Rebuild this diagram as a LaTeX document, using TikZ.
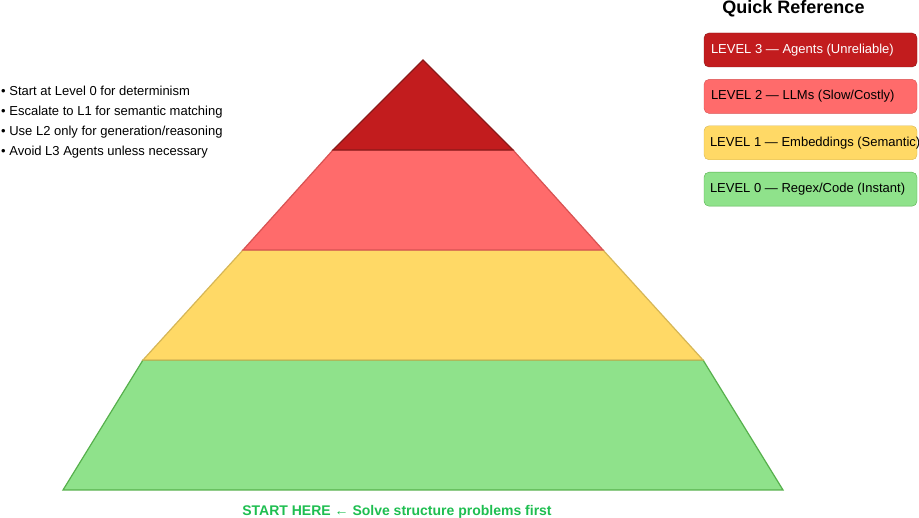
\documentclass[tikz,border=0pt]{standalone}
\usepackage{fontspec}
\setmainfont{Liberation Sans}
\usepackage{xcolor}
\usepackage{tikz}
\usetikzlibrary{positioning}
\definecolor{redfill}{HTML}{C21C1E}
\definecolor{redline}{HTML}{8B1A1A}
\definecolor{pinkfill}{HTML}{FF6B6B}
\definecolor{pinkline}{HTML}{D85252}
\definecolor{yellowfill}{HTML}{FFD966}
\definecolor{yellowline}{HTML}{D6B656}
\definecolor{greenfill}{HTML}{8FE28B}
\definecolor{greenline}{HTML}{56B04C}
\definecolor{starttext}{HTML}{1EBE50}
\tikzset{layer/.style={line width=1.2pt,line join=miter},
         refbox/.style={draw,rounded corners=5pt,minimum width=213pt,minimum height=34pt,inner sep=0pt,font=\fontsize{13}{15}\selectfont}}

\begin{document}
\begin{tikzpicture}[x=1pt,y=-1pt]
    \useasboundingbox (0,0) rectangle (919,518);
    \coordinate (apex) at (423,60);
    \coordinate (l3) at (333,150);
    \coordinate (r3) at (513,150);
    \coordinate (l2) at (243,250);
    \coordinate (r2) at (603,250);
    \coordinate (l1) at (143,360);
    \coordinate (r1) at (703,360);
    \coordinate (l0) at (63,490);
    \coordinate (r0) at (783,490);

    \filldraw [layer,fill=greenfill,draw=greenline] (l1) -- (r1) -- (r0) -- (l0) -- cycle;
    \filldraw [layer,fill=yellowfill,draw=yellowline] (l2) -- (r2) -- (r1) -- (l1) -- cycle;
    \filldraw [layer,fill=pinkfill,draw=pinkline] (l3) -- (r3) -- (r2) -- (l2) -- cycle;
    \filldraw [layer,fill=redfill,draw=redline] (apex) -- (r3) -- (l3) -- cycle;

    \node[anchor=base,inner sep=0pt,font=\bfseries\fontsize{18}{21}\selectfont] (title) at (793.5,14) {Quick Reference};
    \node[refbox,fill=redfill,draw=redline] (ref3) at (810.5,50) {\makebox[199pt][l]{\color{white}LEVEL 3 --- Agents (Unreliable)}};
    \node[refbox,fill=pinkfill,draw=pinkline,below=12pt of ref3] (ref2) {\makebox[199pt][l]{LEVEL 2 --- LLMs (Slow/Costly)}};
    \node[refbox,fill=yellowfill,draw=yellowline,below=12pt of ref2] (ref1) {\makebox[201pt][l]{LEVEL 1 --- Embeddings (Semantic)}};
    \node[refbox,fill=greenfill,draw=greenline,below=12pt of ref1] (ref0) {\makebox[201pt][l]{LEVEL 0 --- Regex/Code (Instant)}};

    \node[anchor=west,align=left,inner sep=1pt,font=\fontsize{13}{20}\selectfont] (tips) at (0,122.5) {%
        • Start at Level 0 for determinism\\
        • Escalate to L1 for semantic matching\\
        • Use L2 only for generation/reasoning\\
        • Avoid L3 Agents unless necessary};

    \node[font=\bfseries\fontsize{14}{16}\selectfont,text=starttext] (start) at (397,511.5) {START HERE ← Solve structure problems first};
\end{tikzpicture}
\end{document}
